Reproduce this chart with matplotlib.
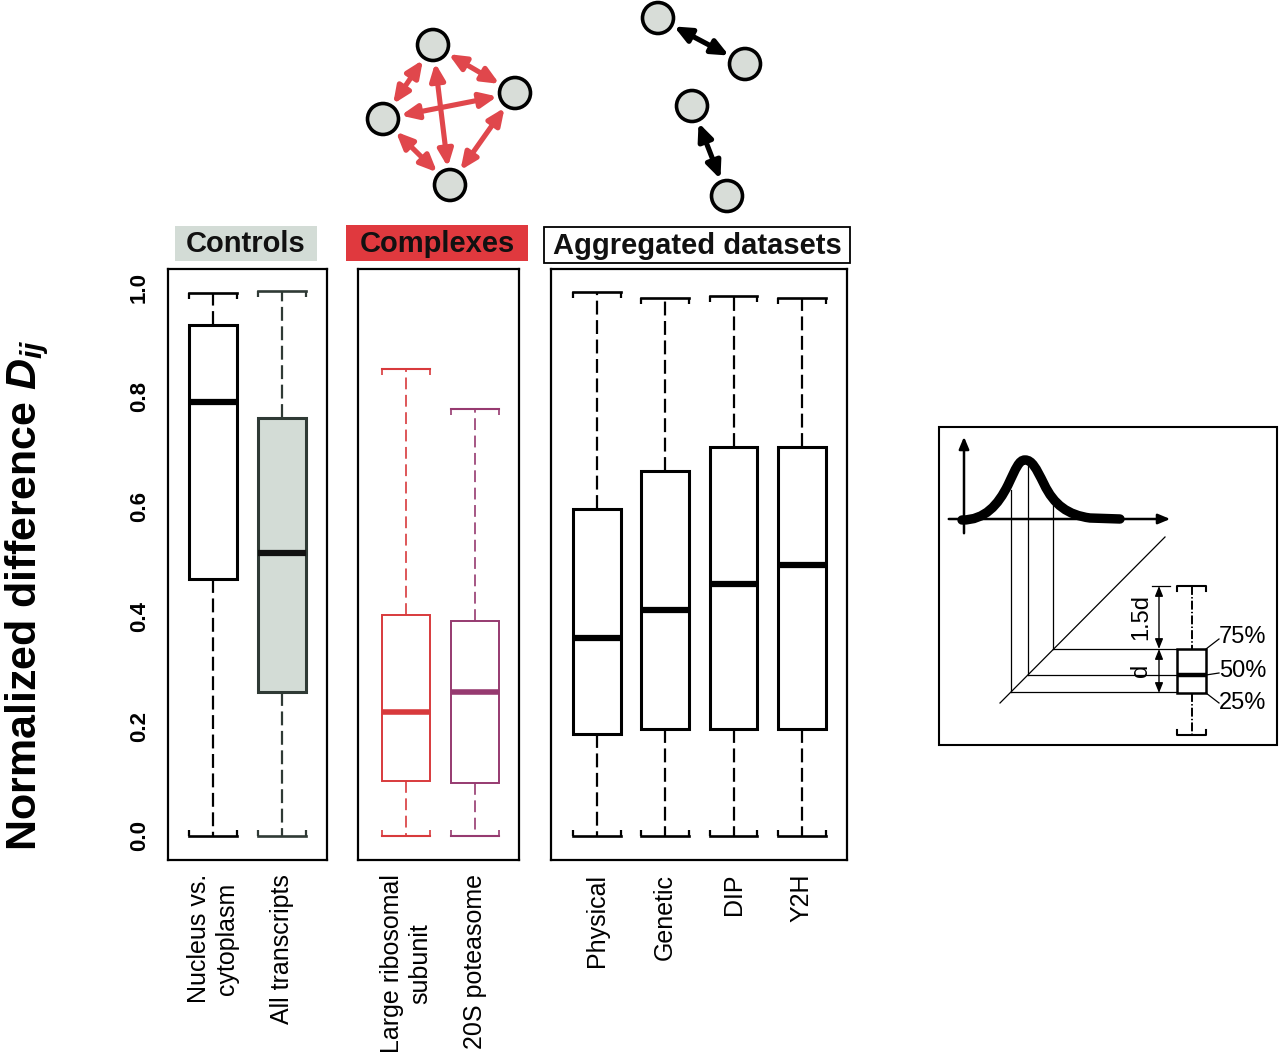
import matplotlib
matplotlib.use('Agg')
import matplotlib.pyplot as plt
from matplotlib.patches import Rectangle, Circle, FancyArrowPatch, PathPatch
from matplotlib.path import Path

plt.rcParams['font.family'] = ['Liberation Sans', 'DejaVu Sans']
plt.rcParams['mathtext.fontset'] = 'custom'
plt.rcParams['mathtext.it'] = 'Liberation Sans:italic:bold'
plt.rcParams['mathtext.rm'] = 'Liberation Sans:bold'
plt.rcParams['mathtext.bf'] = 'Liberation Sans:bold'
plt.rcParams['lines.scale_dashes'] = False

# --- box plot values ---
controls_labels = ['Nucleus vs.\ncytoplasm', 'All transcripts']
controls_whislo = [0.0, 0.0]
controls_q1 = [0.468, 0.262]
controls_med = [0.790, 0.515]
controls_q3 = [0.931, 0.761]
controls_whishi = [0.990, 0.993]

complexes_labels = ['Large ribosomal\nsubunit', '20S poteasome']
complexes_whislo = [0.0, 0.0]
complexes_q1 = [0.100, 0.097]
complexes_med = [0.226, 0.262]
complexes_q3 = [0.403, 0.392]
complexes_whishi = [0.851, 0.778]

aggregated_labels = ['Physical', 'Genetic', 'DIP', 'Y2H']
aggregated_whislo = [0.0, 0.0, 0.0, 0.0]
aggregated_q1 = [0.186, 0.195, 0.195, 0.195]
aggregated_med = [0.361, 0.412, 0.459, 0.494]
aggregated_q3 = [0.596, 0.665, 0.709, 0.709]
aggregated_whishi = [0.991, 0.980, 0.984, 0.980]

y_ticks = [0.0, 0.2, 0.4, 0.6, 0.8, 1.0]

# --- schematic networks drawn above the panels (pixel positions) ---
complex_nodes = [(433, 45), (383, 119), (515, 93), (450, 185)]
complex_links = [(0, 1), (0, 2), (0, 3), (1, 2), (1, 3), (2, 3)]
pair_nodes = [(658, 18), (745, 64), (692, 106), (727, 196)]
pair_links = [(0, 1), (2, 3)]

BOX_W = 0.7
TICK = 0.011


def draw_panel(ax, labels, whislo, q1, med, q3, whishi, edges, fills, meds,
               box_lw, med_lw, whisk_lw, dash):
    stats = []
    for i in range(len(labels)):
        stats.append(dict(label=labels[i], whislo=whislo[i], q1=q1[i], med=med[i],
                          q3=q3[i], whishi=whishi[i], fliers=[]))
    pos = list(range(1, len(labels) + 1))
    parts = ax.bxp(stats, positions=pos, widths=BOX_W, capwidths=BOX_W,
                   patch_artist=True, showfliers=False)
    for i, p in enumerate(pos):
        box = parts['boxes'][i]
        box.set_facecolor(fills[i])
        box.set_edgecolor(edges[i])
        box.set_linewidth(box_lw)
        m = parts['medians'][i]
        m.set_color(meds[i])
        m.set_linewidth(med_lw)
        m.set_solid_capstyle('butt')
        for w in parts['whiskers'][2 * i:2 * i + 2]:
            w.set_color(edges[i])
            w.set_linewidth(whisk_lw)
            w.set_linestyle((0, dash))
        for c in parts['caps'][2 * i:2 * i + 2]:
            c.set_color(edges[i])
            c.set_linewidth(whisk_lw + 0.3)
        # bracket ends on the caps
        xs = [p - BOX_W / 2, p + BOX_W / 2]
        ax.vlines(xs, whishi[i] - TICK, whishi[i], color=edges[i], lw=whisk_lw)
        ax.vlines(xs, whislo[i], whislo[i] + TICK, color=edges[i], lw=whisk_lw)
    ax.set_ylim(-0.044, 1.033)
    ax.set_xticks(pos)
    ax.set_xticklabels(labels, rotation=90, fontsize=18, va='top', ha='center')
    ax.tick_params(axis='x', length=0, pad=10)
    ax.set_facecolor('none')
    for s in ax.spines.values():
        s.set_linewidth(1.6)


fig = plt.figure(figsize=(12.8, 10.58), dpi=100)

# overlay axes in pixel coordinates for headers and schematics
ov = fig.add_axes([0, 0, 1, 1], zorder=0)
ov.set_xlim(0, 1280)
ov.set_ylim(1058, 0)
ov.axis('off')

H = 1058.0
ax1 = fig.add_axes([168 / 1280, (H - 860) / H, 159 / 1280, 591 / H], zorder=1)
ax2 = fig.add_axes([358 / 1280, (H - 860) / H, 161 / 1280, 591 / H], zorder=1)
ax3 = fig.add_axes([551 / 1280, (H - 860) / H, 296 / 1280, 591 / H], zorder=1)

draw_panel(ax1, controls_labels, controls_whislo, controls_q1, controls_med,
           controls_q3, controls_whishi,
           edges=['black', '#2f3a35'], fills=['white', '#d3dcd6'],
           meds=['black', '#111111'], box_lw=2.2, med_lw=4.5, whisk_lw=1.6,
           dash=(10, 4))
ax1.set_xlim(0.35, 2.65)
ax1.set_yticks(y_ticks)
ax1.set_yticklabels([f'{v:.1f}' for v in y_ticks], rotation=90, fontsize=16,
                    fontweight='bold', va='center')
ax1.tick_params(axis='y', length=0, pad=13)

draw_panel(ax2, complexes_labels, complexes_whislo, complexes_q1, complexes_med,
           complexes_q3, complexes_whishi,
           edges=['#d83a3c', '#963a70'], fills=['white', 'white'],
           meds=['#d83a3c', '#963a70'], box_lw=1.4, med_lw=4.0, whisk_lw=1.2,
           dash=(8.5, 4))
ax2.set_xlim(0.30, 2.64)
ax2.set_yticks([])

draw_panel(ax3, aggregated_labels, aggregated_whislo, aggregated_q1, aggregated_med,
           aggregated_q3, aggregated_whishi,
           edges=['black'] * 4, fills=['white'] * 4, meds=['black'] * 4,
           box_lw=2.2, med_lw=4.5, whisk_lw=1.6, dash=(10, 4))
ax3.set_xlim(0.33, 4.66)
ax3.set_yticks([])

fig.text(27 / 1280, (H - 595) / H, r'Normalized difference $D_{ij}$',
         rotation=90, ha='center', va='center', fontsize=31, fontweight='bold')

# headers
headers = [('Controls', 175, 317, 226, 261, '#d3dcd6', 'none'),
           ('Complexes', 346, 528, 225, 261, '#e0393e', 'none'),
           ('Aggregated datasets', 544, 850, 227, 263, 'white', 'black')]
for text, x0, x1, y0, y1, fc, ec in headers:
    ov.add_patch(Rectangle((x0, y0), x1 - x0, y1 - y0, facecolor=fc,
                           edgecolor=ec, lw=1.3))
    ov.text((x0 + x1) / 2, (y0 + y1) / 2 + 1, text, ha='center', va='center',
            fontsize=21, fontweight='bold', color='#111111')


def network(nodes, links, color):
    for a, b in links:
        ov.add_patch(FancyArrowPatch(nodes[a], nodes[b],
                                     arrowstyle='<|-|>,head_length=0.5,head_width=0.22',
                                     mutation_scale=20, color=color, lw=3.7,
                                     shrinkA=13, shrinkB=13))
    for x, y in nodes:
        ov.add_patch(Circle((x, y), 15.5, facecolor='#d8ddd8', edgecolor='black',
                            lw=2.6, zorder=3))


network(complex_nodes, complex_links, '#e0474c')
network(pair_nodes, pair_links, 'black')

# --- box plot key (schematic) ---
ov.add_patch(Rectangle((939, 427), 338, 318, facecolor='white',
                       edgecolor='black', lw=1.5))
ov.annotate('', xy=(964, 434), xytext=(964, 536),
            arrowprops=dict(arrowstyle='-|>,head_length=0.6,head_width=0.25',
                            color='black', lw=1.8, mutation_scale=12))
ov.annotate('', xy=(1173, 519), xytext=(946, 519),
            arrowprops=dict(arrowstyle='-|>,head_length=0.6,head_width=0.25',
                            color='black', lw=1.8, mutation_scale=12))
curve = Path([(962, 520), (985, 520), (998, 505), (1008, 485),
              (1016, 468), (1019, 460), (1025, 460),
              (1032, 460), (1036, 468), (1044, 484),
              (1054, 505), (1068, 515), (1090, 518),
              (1120, 519)],
             [Path.MOVETO, Path.CURVE4, Path.CURVE4, Path.CURVE4,
              Path.CURVE4, Path.CURVE4, Path.CURVE4,
              Path.CURVE4, Path.CURVE4, Path.CURVE4,
              Path.CURVE4, Path.CURVE4, Path.CURVE4, Path.LINETO])
ov.add_patch(PathPatch(curve, facecolor='none', edgecolor='black', lw=6.8,
                       capstyle='round', zorder=3))

thin = dict(color='black', lw=0.9)
ov.plot([1011, 1011], [490, 692], **thin)
ov.plot([1028, 1028], [462, 675], **thin)
ov.plot([1053, 1053], [505, 649], **thin)
ov.plot([1000, 1165], [703, 537], **thin)
ov.plot([1011, 1177], [692, 692], **thin)
ov.plot([1028, 1177], [675, 675], **thin)
ov.plot([1053, 1177], [649, 649], **thin)
ov.plot([1152, 1170], [586, 586], **thin)

ov.add_patch(Rectangle((1177, 649), 29, 44, facecolor='none', edgecolor='black',
                       lw=1.8, zorder=4))
ov.plot([1177, 1206], [675, 675], color='black', lw=3.2, solid_capstyle='butt',
        zorder=4)
ov.plot([1192, 1192], [586, 649], color='black', lw=1.4, ls='-.')
ov.plot([1192, 1192], [693, 735], color='black', lw=1.4, ls='-.')
ov.plot([1177, 1177, 1206, 1206], [591, 586, 586, 591], color='black', lw=1.5)
ov.plot([1177, 1177, 1206, 1206], [730, 735, 735, 730], color='black', lw=1.5)
for ya, yb in [(586, 649), (649, 693)]:
    ov.annotate('', xy=(1159, ya), xytext=(1159, yb),
                arrowprops=dict(arrowstyle='<|-|>,head_length=0.5,head_width=0.2',
                                color='black', lw=1.0, mutation_scale=12,
                                shrinkA=0, shrinkB=0))
ov.text(1141, 617, '1.5d', rotation=90, ha='center', va='center', fontsize=17)
ov.text(1141, 670, 'd', rotation=90, ha='center', va='center', fontsize=17)
ov.plot([1206, 1219], [649, 639], **thin)
ov.plot([1206, 1219], [675, 673], **thin)
ov.plot([1206, 1219], [693, 703], **thin)
ov.text(1219, 637, '75%', ha='left', va='center', fontsize=17)
ov.text(1219, 671, '50%', ha='left', va='center', fontsize=17)
ov.text(1219, 703, '25%', ha='left', va='center', fontsize=17)

fig.savefig('out.png', dpi=100)
